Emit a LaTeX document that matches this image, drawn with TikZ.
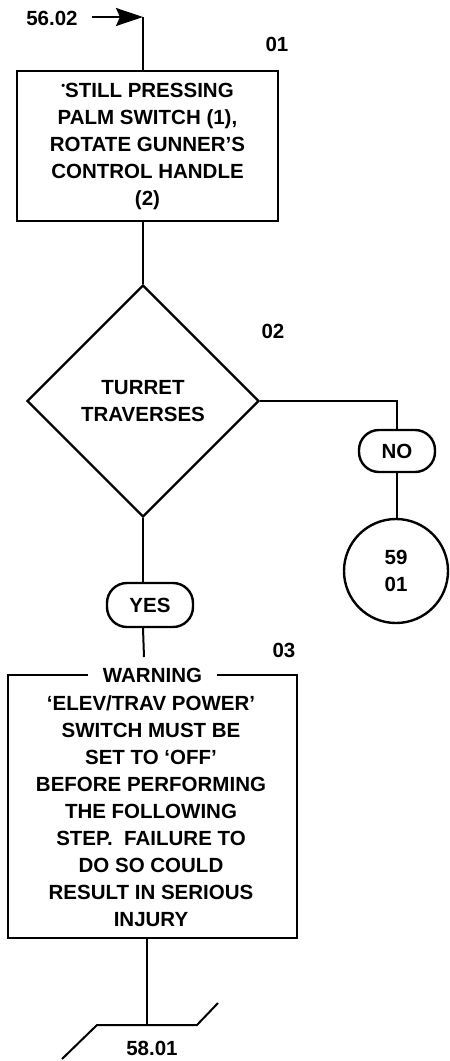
\documentclass[tikz,border=0pt]{standalone}
\usepackage{fontspec}
\setmainfont{Liberation Sans}
\usetikzlibrary{shapes.geometric,arrows.meta}
\begin{document}
\begin{tikzpicture}[x=1pt,y=-1pt,
  txt/.style={font=\fontsize{20.5}{27}\selectfont\bfseries, align=center, inner sep=0pt},
  frame/.style={draw, line width=2.4pt},
  conn/.style={line width=2pt},
  pill/.style={frame, txt, rounded corners=20pt},
  lbl/.style={txt}]
\useasboundingbox (0,0) rectangle (450,1061);

% start
\node[lbl] (src) at (52,18) {56.02};
\coordinate (start) at (92,17);
\coordinate (corner) at (143,17);
\draw[conn, -{Stealth[length=27pt,width=18pt,inset=4pt]}] (start) -- (corner);

% step 01
\node[frame, txt, minimum width=261pt, minimum height=150pt] (b1) at (147.5,146)
  {\raisebox{8pt}{\fontsize{11}{11}\selectfont\textbullet}STILL PRESSING\\PALM SWITCH (1),\\ROTATE GUNNER'S\\CONTROL HANDLE\\(2)};
\node[lbl] (n01) at (277,44) {01};
\draw[conn] (corner) -- (corner |- b1.north);

% step 02
\node[frame, txt, diamond, minimum width=232pt, minimum height=232pt] (dia) at (143,401)
  {TURRET\\TRAVERSES};
\node[lbl] (n02) at (273,331) {02};
\draw[conn] (corner |- b1.south) -- (dia.north);

% NO branch
\node[pill, minimum width=76pt, minimum height=42pt] (no) at (397,451) {NO};
\node[frame, txt, circle, minimum size=104pt] (c59) at (396,571) {59\\01};
\draw[conn] (dia.east) -| (no.north);
\draw[conn] (no.south) -- (c59.north -| no.south);

% YES branch
\node[pill, minimum width=86pt, minimum height=44pt] (yes) at (150,605) {YES};
\draw[conn] (dia.south) -- (dia.south |- yes.north);
\coordinate (wtop) at (144,657);
\draw[conn] (dia.south |- yes.south) -- (wtop);

% step 03 warning
\node[frame, minimum width=289pt, minimum height=263pt] (wbox) at (152.5,806.5) {};
\node[txt, fill=white, minimum width=129pt, minimum height=12pt] (warn) at (152.5,675) {WARNING};
\node[txt] (wtext) at (151,811)
  {`ELEV/TRAV POWER'\\SWITCH MUST BE\\SET TO `OFF'\\BEFORE PERFORMING\\THE FOLLOWING\\STEP.\ \ FAILURE TO\\DO SO COULD\\RESULT IN SERIOUS\\INJURY};
\node[lbl] (n03) at (284,650) {03};

% off-page connector
\coordinate (off) at (147,1025);
\coordinate (offL) at (97,1025);
\coordinate (offR) at (197,1025);
\coordinate (offLL) at (62,1059);
\coordinate (offRR) at (218,1003);
\draw[conn] (wbox.south -| off) -- (off);
\draw[conn] (offLL) -- (offL) -- (offR) -- (offRR);
\node[lbl] (dest) at (152,1048) {58.01};
\end{tikzpicture}
\end{document}
